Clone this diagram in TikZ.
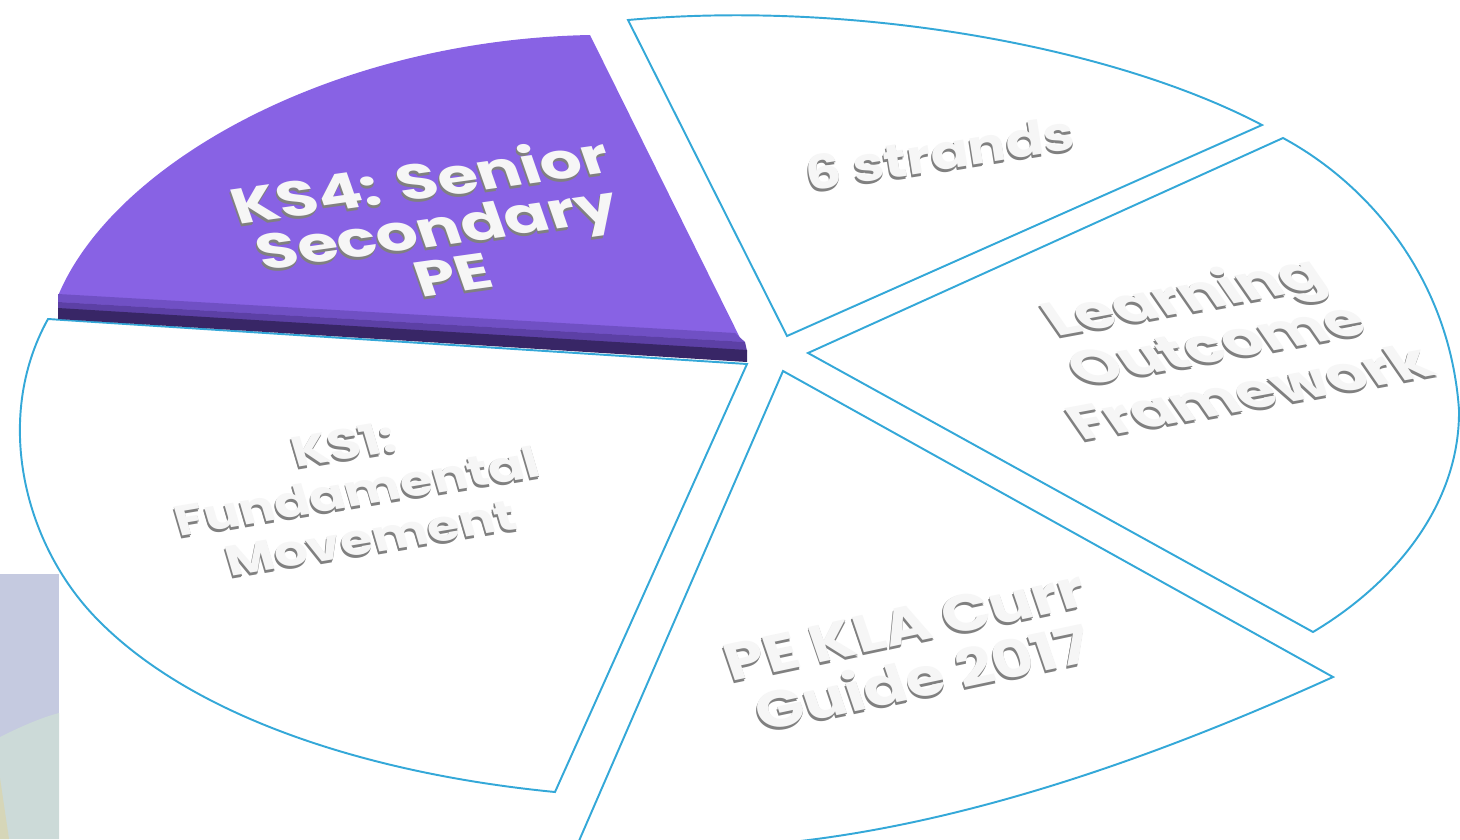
\documentclass[tikz,border=0pt]{standalone}
\usepackage{fontspec}
\newfontfamily\pop{Poppins}
\definecolor{pieblue}{RGB}{52,168,216}
\definecolor{ptop}{RGB}{136,98,228}
\definecolor{pbev}{RGB}{112,80,196}
\definecolor{pmid}{RGB}{92,64,165}
\definecolor{pdark}{RGB}{56,38,102}
\definecolor{tface}{RGB}{246,246,246}
\definecolor{tside}{RGB}{128,128,128}
\definecolor{bgA}{RGB}{197,202,224}
\definecolor{bgB}{RGB}{204,218,216}
\definecolor{bgC}{RGB}{214,214,184}
\tikzset{
  slice/.style={draw=pieblue, line width=0.55pt, fill=white, line join=miter},
  lbl/.style={transform shape, align=center, inner sep=0pt},
}
% #1 name, #2 x, #3 y, #4 angle, #5 slant, #6 yscale, #7 {size}{skip}, #8 text
\newcommand\embtext[8]{%
  \foreach \q in {3,1.5}{%
    \begin{scope}[shift={(#2-0.3*\q,#3+\q)}, rotate=#4, xslant=#5, yscale=#6]
      \node[lbl, text=tside, font=\pop\bfseries\fontsize#7\selectfont] at (0,0) {#8};
    \end{scope}}%
  \begin{scope}[shift={(#2,#3)}, rotate=#4, xslant=#5, yscale=#6]
    \node[lbl, text=tface, font=\pop\bfseries\fontsize#7\selectfont] (#1) at (0,0) {#8};
  \end{scope}}
\begin{document}
\begin{tikzpicture}[x={(0.01cm,0)}, y={(0,-0.01cm)}]
\useasboundingbox (0,0) rectangle (1460,839);
\clip (0,0) rectangle (1460,839);
% background fragment
\fill[bgA] (0,574) rectangle (59,839);
\fill[bgB] (0,737) .. controls (20,727) and (40,718) .. (59,713) -- (59,839) -- (0,839) -- cycle;
\fill[bgC] (0,778) -- (9,839) -- (0,839) -- cycle;
% slices
\draw[slice] (48,319) -- (747,364) -- (555,792)
  .. controls (380,775) and (200,722) .. (100,622)
  .. controls (25,548) and (-8,420) .. (48,319) -- cycle;
\draw[slice] (628,20) .. controls (850,0) and (1110,45) .. (1262,125) -- (787,336) -- cycle;
\draw[slice] (808,353) -- (1283,138) .. controls (1370,185) and (1450,280) .. (1459,410)
  .. controls (1460,500) and (1400,580) .. (1313,632) -- cycle;
\draw[slice] (783,371) -- (1333,677) .. controls (1150,760) and (950,830) .. (760,845)
  -- (562,880) -- cycle;
% purple slice
\fill[ptop] (590,35) -- (747,352) -- (58,306) -- (58,296) .. controls (112,165) and (330,40) .. (590,35) -- cycle;
\fill[pbev] (58,294) -- (735,333) -- (745,342) -- (58,302) -- cycle;
\fill[pmid] (58,302) -- (745,342) -- (747,351) -- (58,309) -- cycle;
\fill[pdark] (58,308) -- (747,350) -- (747,362) -- (58,319) -- cycle;
% labels
\embtext{ks4}{436}{226}{8}{-0.2}{0.77}{{18.5}{18}}{KS4: Senior\\Secondary\\PE}
\embtext{six}{940}{153}{9}{0}{0.84}{{16}{17}}{6 strands}
\embtext{lof}{1215}{342}{10.5}{-0.45}{0.8}{{17.5}{19}}{Learning\\Outcome\\Framework}
\embtext{ks1}{357}{491}{9.5}{-0.12}{0.81}{{15}{17}}{KS1:\\Fundamental\\Movement}
\embtext{pek}{914}{652}{12}{-0.12}{0.83}{{18}{19}}{PE KLA Curr\\Guide 2017}
\end{tikzpicture}
\end{document}
